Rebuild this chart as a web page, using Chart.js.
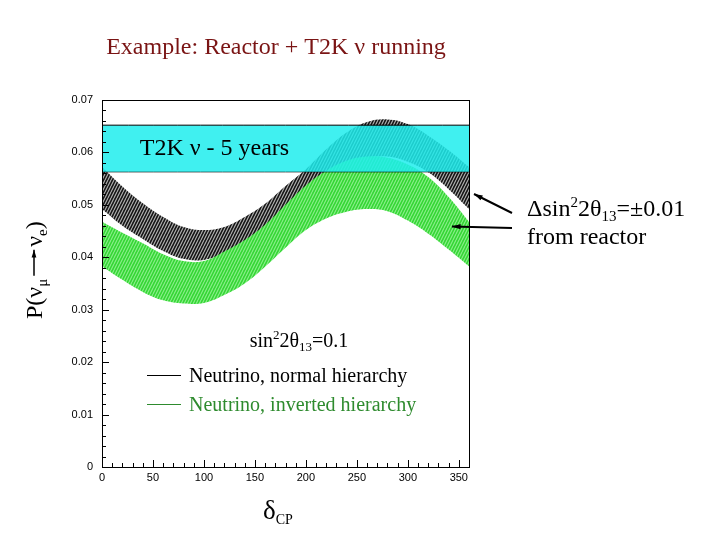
<!DOCTYPE html>
<html>
<head>
<meta charset="utf-8">
<script src="https://cdn.jsdelivr.net/npm/chart.js@4/dist/chart.umd.min.js"></script>
<style>
  body { margin: 0; background: #fff; }
  #wrap { width: 720px; height: 540px; }
</style>
</head>
<body>
<div id="wrap"><canvas id="probChart"></canvas></div>
<script>
/* ================= DATA ================= */

const deltaCP = [0, 20, 40, 60, 80, 100, 120, 140, 160, 180, 200, 220, 240, 260, 280, 300, 320, 340, 360];

// normal hierarchy band (black), sin^2 2theta13 = 0.1 +- 0.01
const nhUpper = [0.0572, 0.0535, 0.0503, 0.0477, 0.0458, 0.0452, 0.0458, 0.0477, 0.0502, 0.0536,
                 0.0568, 0.0606, 0.0638, 0.0658, 0.0663, 0.0654, 0.0632, 0.0604, 0.0572];
const nhLower = [0.0492, 0.0460, 0.0435, 0.0412, 0.0397, 0.0395, 0.0408, 0.0430, 0.0458, 0.0490,
                 0.0525, 0.0555, 0.0578, 0.0590, 0.0592, 0.0582, 0.0562, 0.0530, 0.0492];

// inverted hierarchy band (green)
const ihUpper = [0.0468, 0.0447, 0.0427, 0.0406, 0.0393, 0.0393, 0.0411, 0.0433, 0.0462, 0.0500,
                 0.0537, 0.0565, 0.0584, 0.0592, 0.0590, 0.0577, 0.0553, 0.0515, 0.0468];
const ihLower = [0.0383, 0.0357, 0.0334, 0.0318, 0.0312, 0.0313, 0.0328, 0.0350, 0.0382, 0.0418,
                 0.0452, 0.0474, 0.0487, 0.0492, 0.0488, 0.0470, 0.0445, 0.0415, 0.0383];

// T2K nu 5 years measurement band
const t2kRange = [0, 360];
const t2kUpper = [0.0652, 0.0652];
const t2kLower = [0.0563, 0.0563];

const xTickLabels = [0, 50, 100, 150, 200, 250, 300, 350];
const yTickLabels = [0, 0.01, 0.02, 0.03, 0.04, 0.05, 0.06, 0.07];

/* ================= HELPERS ================= */

const ctx = document.getElementById("probChart").getContext("2d");

function hatch(base, stripe) {
    const c = document.createElement("canvas");
    c.width = 6; c.height = 6;
    const g = c.getContext("2d");
    g.fillStyle = base;
    g.fillRect(0, 0, 6, 6);
    g.strokeStyle = stripe;
    g.lineWidth = 1.1;
    g.beginPath();
    for (let k = -6; k <= 12; k += 3) {
        g.moveTo(k, 6);
        g.lineTo(k + 3, 0);
    }
    g.stroke();
    return ctx.createPattern(c, "repeat");
}

function pts(xs, ys) {
    return xs.map((x, i) => ({ x: x, y: ys[i] }));
}

function band(data, fill, bg, border) {
    return {
        data: data,
        fill: fill,
        backgroundColor: bg,
        borderColor: border || "rgba(0,0,0,0)",
        borderWidth: border ? 1 : 0,
        pointRadius: 0,
        tension: 0.4
    };
}

// draw a run of text pieces: [text, size, dy]
function rich(c, x, y, parts, color, align) {
    let w = 0;
    parts.forEach(p => {
        c.font = p[1] + "px 'Liberation Serif'";
        w += c.measureText(p[0]).width;
    });
    let cx = align === "center" ? x - w / 2 : x;
    c.fillStyle = color;
    c.textAlign = "left";
    c.textBaseline = "alphabetic";
    parts.forEach(p => {
        c.font = p[1] + "px 'Liberation Serif'";
        c.fillText(p[0], cx, y + p[2]);
        cx += c.measureText(p[0]).width;
    });
    return cx;
}

function arrow(c, x1, y1, x2, y2, head) {
    head = head || 9;
    c.beginPath();
    c.moveTo(x1, y1);
    c.lineTo(x2, y2);
    c.stroke();
    const a = Math.atan2(y2 - y1, x2 - x1);
    c.beginPath();
    c.moveTo(x2, y2);
    c.lineTo(x2 - head * Math.cos(a - 0.3), y2 - head * Math.sin(a - 0.3));
    c.lineTo(x2 - head * Math.cos(a + 0.3), y2 - head * Math.sin(a + 0.3));
    c.closePath();
    c.fill();
}

/* ================= DECORATIONS ================= */

const decor = {
    id: "decor",
    afterDraw(chart) {
        const c = chart.ctx;
        const xs = chart.scales.x, ys = chart.scales.y;
        const a = chart.chartArea;
        c.save();

        // frame
        c.strokeStyle = "#000";
        c.lineWidth = 1;
        c.strokeRect(a.left + 0.5, a.top + 0.5, a.right - a.left, a.bottom - a.top);

        // inner ticks
        c.beginPath();
        for (let v = 0; v <= 350; v += 10) {
            const px = Math.round(xs.getPixelForValue(v)) + 0.5;
            const len = v % 50 === 0 ? 7 : 4;
            c.moveTo(px, a.bottom);
            c.lineTo(px, a.bottom - len);
        }
        for (let i = 0; i <= 35; i++) {
            const py = Math.round(ys.getPixelForValue(i * 0.002)) + 0.5;
            const len = i % 5 === 0 ? 7 : 4;
            c.moveTo(a.left, py);
            c.lineTo(a.left + len, py);
        }
        c.stroke();

        // band label
        rich(c, xs.getPixelForValue(37), ys.getPixelForValue(0.0610) + 8,
            [["T2K \u03bd - 5 years", 24, 0]], "#000", "left");

        // legend
        rich(c, 299, 347, [["sin", 20, 0], ["2", 13, -8], ["2\u03b8", 20, 0], ["13", 13, 4], ["=0.1", 20, 0]], "#000", "center");
        c.lineWidth = 1;
        c.strokeStyle = "#000";
        c.beginPath(); c.moveTo(147, 375.5); c.lineTo(181, 375.5); c.stroke();
        rich(c, 189, 382, [["Neutrino, normal hierarchy", 20, 0]], "#000", "left");
        c.strokeStyle = "#2e8b2e";
        c.beginPath(); c.moveTo(147, 404.5); c.lineTo(181, 404.5); c.stroke();
        rich(c, 189, 411, [["Neutrino, inverted hierarchy", 20, 0]], "#2e8b2e", "left");

        // title
        rich(c, 276, 54, [["Example: Reactor + T2K \u03bd running", 24, 0]], "#7a1414", "center");

        // reactor annotation
        rich(c, 527, 216, [["\u0394sin", 24, 0], ["2", 15, -9], ["2\u03b8", 24, 0], ["13", 15, 5], ["=\u00b10.01", 24, 0]], "#000", "left");
        rich(c, 527, 244, [["from reactor", 24, 0]], "#000", "left");
        c.strokeStyle = "#000";
        c.fillStyle = "#000";
        c.lineWidth = 2;
        arrow(c, 512, 213, 474, 194);
        arrow(c, 512, 228, 452, 226.5);

        // x axis title
        rich(c, 263, 519, [["\u03b4", 27, 0], ["CP", 14, 5]], "#000", "left");

        // y axis title, P(nu_mu -> nu_e)
        c.translate(42, 319);
        c.rotate(-Math.PI / 2);
        let ex = rich(c, 0, 0, [["P(\u03bd", 24, 0], ["\u03bc", 15, 5]], "#000", "left");
        c.lineWidth = 1.5;
        arrow(c, ex + 3, -8, ex + 29, -8, 8);
        rich(c, ex + 32, 0, [["\u03bd", 24, 0], ["e", 15, 5], [")", 24, 0]], "#000", "left");

        c.restore();
    }
};

/* ================= CHART ================= */

const nhFill = hatch("#161616", "#b4b4b4");
const ihFill = hatch("#36d636", "#8cf08c");

new Chart(ctx, {
    type: "line",
    data: {
        datasets: [
            band(pts(t2kRange, t2kUpper), "+1", "rgba(30,237,237,0.85)", "#000"),
            band(pts(t2kRange, t2kLower), false, "rgba(0,0,0,0)", "#000"),
            band(pts(deltaCP, ihUpper), "+1", ihFill),
            band(pts(deltaCP, ihLower), false, "rgba(0,0,0,0)"),
            band(pts(deltaCP, nhUpper), "+1", nhFill),
            band(pts(deltaCP, nhLower), false, "rgba(0,0,0,0)")
        ]
    },
    options: {
        responsive: true,
        maintainAspectRatio: false,
        animation: false,
        layout: { padding: { top: 100, right: 251, left: 0, bottom: 0 } },
        plugins: { legend: { display: false }, tooltip: { enabled: false } },
        scales: {
            x: {
                type: "linear",
                min: 0,
                max: 360,
                grid: { display: false, drawTicks: false },
                border: { display: false },
                afterBuildTicks: s => { s.ticks = xTickLabels.map(v => ({ value: v })); },
                ticks: {
                    padding: 4,
                    maxRotation: 0,
                    autoSkip: false,
                    color: "#000",
                    font: { family: "'Liberation Sans'", size: 11 }
                },
                afterFit: s => { s.height = 73; }
            },
            y: {
                min: 0,
                max: 0.07,
                grid: { display: false, drawTicks: false },
                border: { display: false },
                afterBuildTicks: s => { s.ticks = yTickLabels.map(v => ({ value: v })); },
                ticks: {
                    padding: 9,
                    autoSkip: false,
                    color: "#000",
                    font: { family: "'Liberation Sans'", size: 11 },
                    callback: v => v === 0 ? "0" : v.toFixed(2)
                },
                afterFit: s => { s.width = 102; }
            }
        }
    },
    plugins: [decor]
});
</script>
</body>
</html>
